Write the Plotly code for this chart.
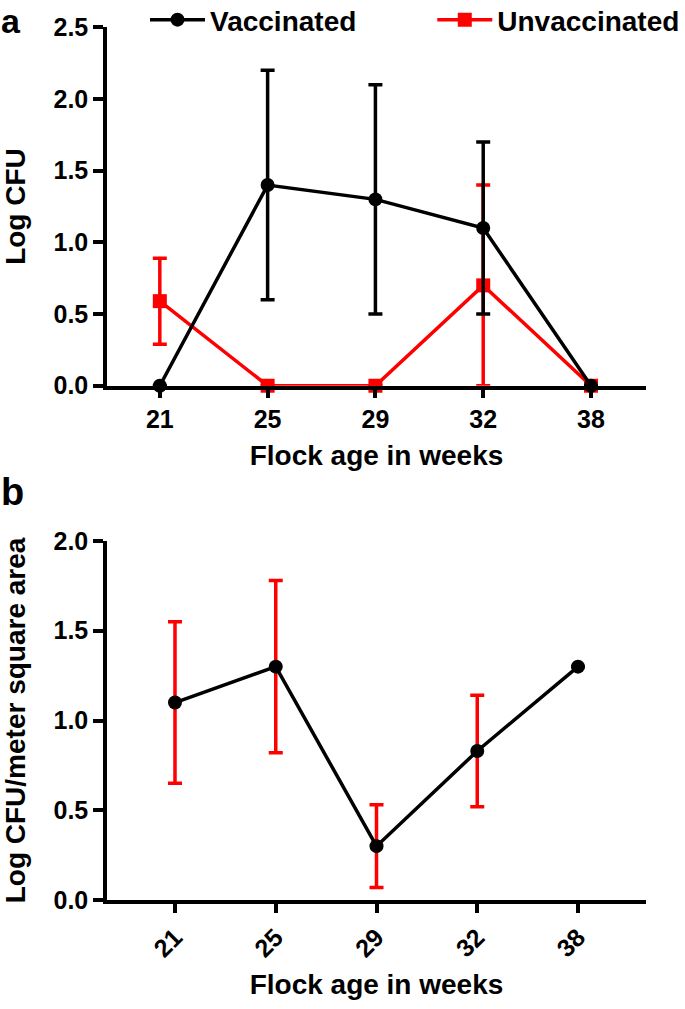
import plotly.graph_objects as go

weeks = ["21", "25", "29", "32", "38"]

vacc_mean = [0.0, 1.4, 1.3, 1.1, 0.0]
vacc_err = [None, 0.8, 0.8, 0.6, None]
unvacc_mean = [0.59, 0.0, 0.0, 0.7, 0.0]
unvacc_err = [0.3, None, None, 0.7, None]

area_mean = [1.1, 1.3, 0.3, 0.83, 1.3]
area_err = [0.45, 0.48, 0.23, 0.31, None]

FONT = "Liberation Sans, Arial, sans-serif"
RED = "#ff0000"
BLK = "#000000"

fig = go.Figure()

fig.add_trace(go.Scatter(
    x=weeks, y=unvacc_mean, name="Unvaccinated", mode="lines+markers",
    line=dict(color=RED, width=3.5),
    marker=dict(symbol="square", size=14, color=RED),
    error_y=dict(type="data", array=unvacc_err, color=RED, thickness=3.5, width=7),
    cliponaxis=False, legend="legend2", xaxis="x", yaxis="y"))

fig.add_trace(go.Scatter(
    x=weeks, y=vacc_mean, name="Vaccinated", mode="lines+markers",
    line=dict(color=BLK, width=3.5),
    marker=dict(symbol="circle", size=14, color=BLK),
    error_y=dict(type="data", array=vacc_err, color=BLK, thickness=3.5, width=7),
    cliponaxis=False, legend="legend", xaxis="x", yaxis="y"))

fig.add_trace(go.Scatter(
    x=weeks, y=area_mean, mode="lines+markers", showlegend=False,
    line=dict(color=BLK, width=3.5),
    marker=dict(symbol="circle", size=14, color=BLK),
    error_y=dict(type="data", array=area_err, color=RED, thickness=3.5, width=7),
    cliponaxis=False, xaxis="x2", yaxis="y2"))

tickfont = dict(family=FONT, size=25, color=BLK, weight="bold")
titlefont = dict(family=FONT, size=28, color=BLK, weight="bold")
legfont = dict(family=FONT, size=28, color=BLK, weight="bold")

common_x = dict(type="category", showline=True, linecolor=BLK, linewidth=3.5,
                ticks="outside", ticklen=9, tickwidth=3.5, tickcolor=BLK,
                showgrid=False, zeroline=False, tickfont=tickfont)
common_y = dict(showline=True, linecolor=BLK, linewidth=3.5,
                ticks="outside", ticklen=10, tickwidth=3.5, tickcolor=BLK,
                showgrid=False, zeroline=False, tickfont=tickfont,
                dtick=0.5, tickformat=".1f")

fig.update_layout(
    width=685, height=1009,
    margin=dict(l=107, r=39, t=0, b=109, autoexpand=False),
    paper_bgcolor="white", plot_bgcolor="white",
    font=dict(family=FONT, color=BLK),
    xaxis=dict(common_x, domain=[0, 1], anchor="y", range=[-0.49, 4.51],
               title=dict(text="Flock age in weeks", font=titlefont, standoff=14)),
    yaxis=dict(common_y, domain=[0.5714, 0.9696], anchor="x", range=[0, 2.5],
               title=dict(text="Log CFU", font=titlefont, standoff=33)),
    xaxis2=dict(common_x, domain=[0, 1], anchor="y2", range=[-0.675, 4.675],
                tickangle=-45,
                title=dict(text="Flock age in weeks", font=titlefont, standoff=14)),
    yaxis2=dict(common_y, domain=[0.0, 0.3989], anchor="x2", range=[0, 2.0],
                title=dict(text="Log CFU/meter square area", font=titlefont, standoff=33)),
    legend=dict(x=0.0705, y=1.0056, xanchor="left", yanchor="top", itemwidth=55,
                font=legfont, bgcolor="rgba(0,0,0,0)"),
    legend2=dict(x=0.6035, y=1.0056, xanchor="left", yanchor="top", itemwidth=55,
                 font=legfont, bgcolor="rgba(0,0,0,0)"),
    showlegend=True,
    annotations=[
        dict(text="a", x=0, y=1.0, xref="paper", yref="paper", xanchor="left", yanchor="top",
             xshift=-108, yshift=0, showarrow=False,
             font=dict(family=FONT, size=34, color=BLK, weight="bold")),
        dict(text="b", x=0, y=0.3989, xref="paper", yref="paper", xanchor="left", yanchor="bottom",
             xshift=-108, yshift=26, showarrow=False,
             font=dict(family=FONT, size=38, color=BLK, weight="bold")),
    ],
)

fig.write_html("out.html", config={"displayModeBar": False},
               post_script="document.body.style.margin='0px';")
